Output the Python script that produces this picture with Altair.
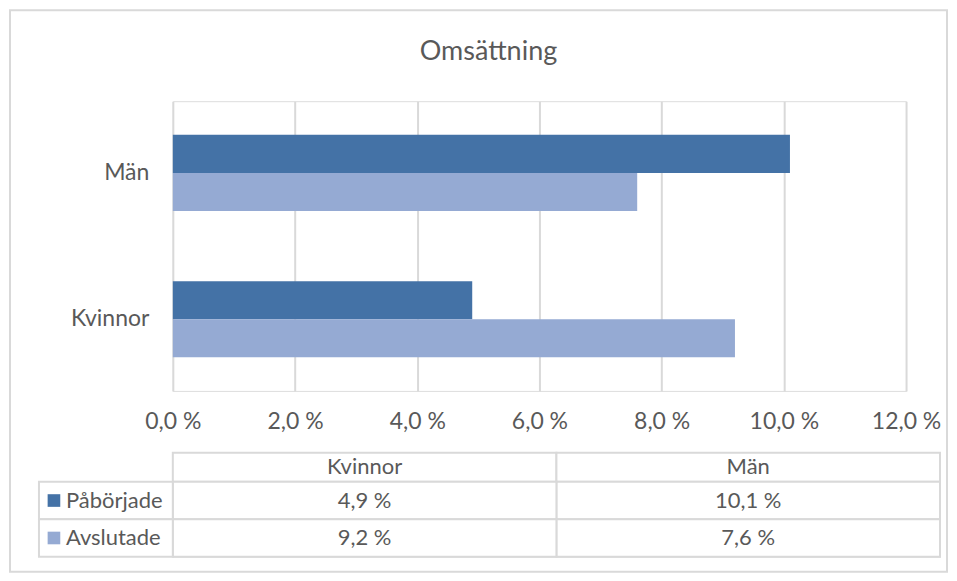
import altair as alt
import pandas as pd

# ---- data ----
categories = ["Män", "Kvinnor"]          # top to bottom in the bar chart
series = ["Påbörjade", "Avslutade"]
paborjade = [10.1, 4.9]                   # Män, Kvinnor
avslutade = [7.6, 9.2]                    # Män, Kvinnor
x_ticks = [0, 2, 4, 6, 8, 10, 12]
table_columns = ["Kvinnor", "Män"]
colors = ["#4472A6", "#95AAD3"]

FONT = "Lato"
TEXT = "#595959"
GRID = "#D9D9D9"


def fmt(v):
    return f"{v:.1f}".replace(".", ",") + " %"


rows = []
for s, vals in zip(series, [paborjade, avslutade]):
    for c, v in zip(categories, vals):
        rows.append({"kategori": c, "serie": s, "varde": v, "etikett": fmt(v)})
df = pd.DataFrame(rows)

pct_expr = "replace(format(datum.value, '.1f'), '.', ',') + ' %'"
color_enc = alt.Color("serie:N", scale=alt.Scale(domain=series, range=colors), legend=None)

# ---- bar chart ----
bars = alt.Chart(df).mark_bar().encode(
    x=alt.X("varde:Q",
            scale=alt.Scale(domain=[0, 12], nice=False, zero=True),
            axis=alt.Axis(values=x_ticks, labelExpr=pct_expr, grid=True,
                          gridColor=GRID, gridWidth=2, domain=False, ticks=False,
                          labelFlush=False, labelPadding=20, labelFontSize=23,
                          labelColor=TEXT, labelFont=FONT, title=None)),
    y=alt.Y("kategori:N", sort=categories,
            scale=alt.Scale(paddingInner=0.48, paddingOuter=0.23),
            axis=alt.Axis(domain=False, ticks=False, labelPadding=24,
                          labelFontSize=23, labelColor=TEXT, labelFont=FONT,
                          title=None)),
    yOffset=alt.YOffset("serie:N", sort=series,
                        scale=alt.Scale(paddingInner=0, paddingOuter=0)),
    color=color_enc,
)

frame = alt.Chart(pd.DataFrame({"f": [0]})).mark_rect(
    fill=None, stroke=GRID, strokeWidth=2
).encode(
    x=alt.value(-163), x2=alt.value(775), y=alt.value(-91), y2=alt.value(471)
)

top = alt.layer(frame, bars).properties(width=734, height=290)

# ---- data table ----
head_df = pd.DataFrame({"kolumn": table_columns})
xcol = alt.X("kolumn:N", sort=table_columns,
             scale=alt.Scale(paddingInner=0, paddingOuter=0), axis=None)

head_cells = alt.Chart(head_df).mark_rect(
    fill="white", stroke=GRID, strokeWidth=2
).encode(x=xcol, y=alt.value(0), y2=alt.value(29))
head_text = alt.Chart(head_df).mark_text(
    font=FONT, fontSize=22, color=TEXT, baseline="middle"
).encode(x=xcol, y=alt.value(14.5), text="kolumn:N")
header = alt.layer(head_cells, head_text).properties(width=768, height=29)

tab_rows = []
for s, vals in zip(series, [paborjade, avslutade]):
    for c, v in zip(categories, vals):
        tab_rows.append({"kolumn": c, "serie": s, "etikett": fmt(v)})
tab_df = pd.DataFrame(tab_rows)
ser_df = pd.DataFrame({"serie": series})

yrow = alt.Y("serie:N", sort=series,
             scale=alt.Scale(paddingInner=0, paddingOuter=0), axis=None)

cells = alt.Chart(tab_df).mark_rect(
    fill="white", stroke=GRID, strokeWidth=2
).encode(x=xcol, y=yrow)
cell_text = alt.Chart(tab_df).mark_text(
    font=FONT, fontSize=22, color=TEXT, baseline="middle"
).encode(x=xcol, y=yrow, text="etikett:N")
row_cells = alt.Chart(ser_df).mark_rect(
    fill="white", stroke=GRID, strokeWidth=2
).encode(x=alt.value(-134), x2=alt.value(0), y=yrow)
row_keys = alt.Chart(ser_df).mark_square(size=160, opacity=1).encode(
    x=alt.value(-119), y=yrow, color=color_enc)
row_text = alt.Chart(ser_df).mark_text(
    font=FONT, fontSize=22, color=TEXT, baseline="middle", align="left"
).encode(x=alt.value(-107), y=yrow, text="serie:N")
table_rows = alt.layer(cells, cell_text, row_cells, row_keys, row_text).properties(
    width=768, height=75)

table = alt.vconcat(header, table_rows, spacing=0, bounds="flush")

chart = alt.vconcat(top, table, spacing=62, bounds="flush").properties(
    title=alt.TitleParams("Omsättning", anchor="middle", fontSize=27, font=FONT,
                          color=TEXT, fontWeight="normal", offset=-57, dx=10),
    padding={"left": 0, "top": 0, "right": 0, "bottom": 0},
).configure_view(stroke=None).configure(background="white")

chart.save("out.html", embed_options={"renderer": "svg", "actions": False})
